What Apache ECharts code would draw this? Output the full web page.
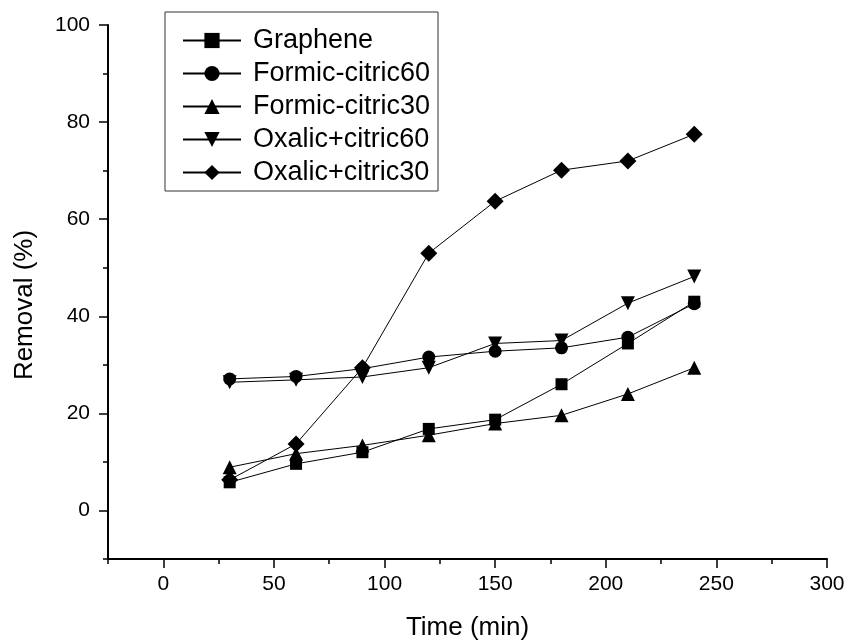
<!DOCTYPE html>
<html>
<head>
<meta charset="utf-8">
<script src="https://cdn.jsdelivr.net/npm/echarts@6/dist/echarts.min.js"></script>
<style>
html, body { margin: 0; padding: 0; background: #fff; }
#chart { width: 846px; height: 643px; }
</style>
</head>
<body>
<div id="chart"></div>
<script>
var times = [30, 60, 90, 120, 150, 180, 210, 240];
var graphene = [5.8, 9.6, 12.0, 16.8, 18.7, 26.0, 34.4, 43.0];
var formic60 = [27.1, 27.6, 29.2, 31.6, 32.8, 33.5, 35.7, 42.6];
var formic30 = [8.9, 11.7, 13.4, 15.5, 17.9, 19.6, 24.0, 29.4];
var oxalic60 = [26.4, 26.9, 27.5, 29.4, 34.4, 35.0, 42.7, 48.2];
var oxalic30 = [6.3, 13.7, 29.4, 53.0, 63.7, 70.1, 72.0, 77.5];
var names = ['Graphene', 'Formic-citric60', 'Formic-citric30', 'Oxalic+citric60', 'Oxalic+citric30'];
var xMajor = [0, 50, 100, 150, 200, 250, 300];
var xMinor = [-25, 25, 75, 125, 175, 225, 275];
var yMajor = [0, 20, 40, 60, 80, 100];
var yMinor = [-10, 10, 30, 50, 70, 90];

var font = 'Liberation Sans, Arial, sans-serif';

var pairs = function (ys) {
    return times.map(function (t, i) { return [t, ys[i]]; });
};

var makeSeries = function (name, ys, symbol, size, rotate) {
    return {
        name: name,
        type: 'line',
        data: pairs(ys),
        symbol: symbol,
        symbolSize: size,
        symbolRotate: rotate || 0,
        color: '#000',
        itemStyle: { color: '#000' },
        lineStyle: { color: '#000', width: 1 },
        emphasis: { disabled: true }
    };
};

var myChart = echarts.init(document.getElementById('chart'));
myChart.setOption({
    animation: false,
    grid: { left: 108, right: 19, top: 25, bottom: 84, outerBoundsMode: 'none' },
    legend: {
        orient: 'vertical',
        left: 165,
        top: 12,
        data: names,
        itemWidth: 58,
        itemHeight: 19,
        itemGap: 6,
        padding: [15, 8, 5, 17],
        borderColor: '#333',
        borderWidth: 1,
        textStyle: { fontSize: 27, color: '#000', fontFamily: font, padding: [0, 0, 0, 7] }
    },
    xAxis: [
        {
            type: 'value',
            min: -25,
            max: 300,
            position: 'bottom',
            name: 'Time (min)',
            nameLocation: 'middle',
            nameGap: 56,
            nameTextStyle: { fontSize: 26, color: '#000', fontFamily: font },
            axisLine: { onZero: false, lineStyle: { color: '#000', width: 2 } },
            axisTick: { customValues: xMajor, length: 9, lineStyle: { color: '#000', width: 1.5 } },
            axisLabel: { customValues: xMajor, fontSize: 21, color: '#000', fontFamily: font, margin: 15 },
            splitLine: { show: false }
        },
        {
            type: 'value',
            min: -25,
            max: 300,
            position: 'bottom',
            axisLine: { show: false, onZero: false },
            axisTick: { customValues: xMinor, length: 5, lineStyle: { color: '#000', width: 1.5 } },
            axisLabel: { show: false },
            splitLine: { show: false }
        }
    ],
    yAxis: [
        {
            type: 'value',
            min: -10,
            max: 100,
            position: 'left',
            name: 'Removal (%)',
            nameLocation: 'middle',
            nameGap: 70,
            nameTextStyle: { fontSize: 26, color: '#000', fontFamily: font, padding: [0, 26, 0, 0] },
            axisLine: { show: true, onZero: false, lineStyle: { color: '#000', width: 2 } },
            axisTick: { show: true, customValues: yMajor, length: 9, lineStyle: { color: '#000', width: 1.5 } },
            axisLabel: { customValues: yMajor, fontSize: 21, color: '#000', fontFamily: font, margin: 18 },
            splitLine: { show: false }
        },
        {
            type: 'value',
            min: -10,
            max: 100,
            position: 'left',
            axisLine: { show: false, onZero: false },
            axisTick: { show: true, customValues: yMinor, length: 5, lineStyle: { color: '#000', width: 1.5 } },
            axisLabel: { show: false },
            splitLine: { show: false }
        }
    ],
    series: [
        makeSeries(names[0], graphene, 'rect', 12),
        makeSeries(names[1], formic60, 'circle', 13),
        makeSeries(names[2], formic30, 'triangle', 14),
        makeSeries(names[3], oxalic60, 'triangle', 14, 180),
        makeSeries(names[4], oxalic30, 'diamond', 17)
    ]
});
window.onresize = myChart.resize;
</script>
</body>
</html>
